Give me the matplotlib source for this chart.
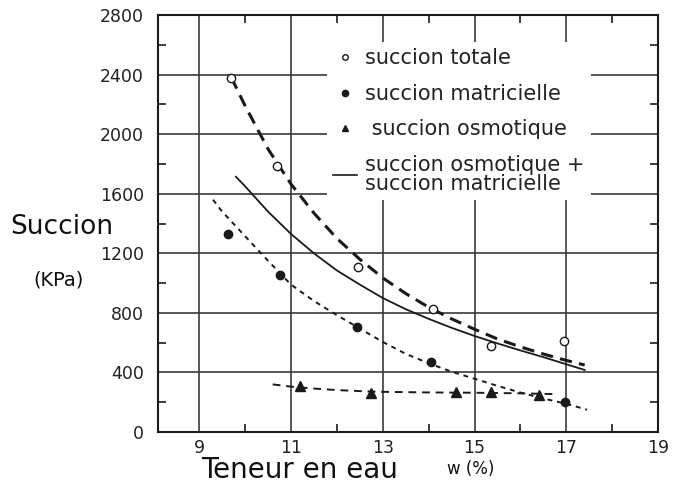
import matplotlib
matplotlib.use("Agg")
import matplotlib.pyplot as plt
from matplotlib.lines import Line2D
from matplotlib.ticker import MultipleLocator

# Measured points: water content w (%) and suction (kPa)
w_totale = [9.7, 10.7, 12.45, 14.1, 15.35, 16.95]
s_totale = [2380, 1785, 1110, 825, 575, 610]

w_matric = [9.62, 10.75, 12.43, 14.04, 16.98]
s_matric = [1330, 1055, 707, 470, 200]

w_osmo = [11.2, 12.75, 14.6, 15.35, 16.4]
s_osmo = [310, 263, 272, 268, 252]

# Trend curves
w_curve_tot = [9.7, 10.0, 10.5, 11.0, 11.5, 12.0, 12.5, 13.0, 13.5, 14.0, 14.5,
               15.0, 15.5, 16.0, 16.5, 17.0, 17.4]
s_curve_tot = [2380, 2190, 1900, 1665, 1470, 1300, 1160, 1035, 930, 838, 760,
               690, 625, 572, 524, 481, 450]

w_curve_sum = [9.8, 10.0, 10.5, 11.0, 11.5, 12.0, 12.5, 13.0, 13.5, 14.0, 14.5,
               15.0, 15.5, 16.0, 16.5, 17.0, 17.4]
s_curve_sum = [1714, 1650, 1480, 1330, 1200, 1085, 990, 900, 825, 760, 700,
               645, 595, 548, 503, 455, 417]

w_curve_mat = [9.3, 9.5, 10.0, 10.5, 11.0, 11.5, 12.0, 12.5, 13.0, 13.5, 14.0,
               14.5, 15.0, 15.5, 16.0, 16.5, 17.0, 17.45]
s_curve_mat = [1560, 1480, 1315, 1150, 990, 880, 785, 695, 605, 525, 462,
               405, 358, 310, 265, 225, 190, 150]

w_curve_osm = [10.6, 11.0, 11.5, 12.0, 12.5, 13.0, 14.0, 15.0, 16.0, 16.7]
s_curve_osm = [320, 305, 292, 282, 275, 270, 266, 264, 260, 255]

x_ticks = [9, 11, 13, 15, 17, 19]
y_ticks = [0, 400, 800, 1200, 1600, 2000, 2400, 2800]

fig = plt.figure(figsize=(6.75, 4.86), dpi=100)
ax = fig.add_axes([0.234, 0.111, 0.741, 0.858])
ax.set_xlim(8.1, 19)
ax.set_ylim(0, 2800)

ink = "#1a1a1a"
grid_c = "#3a3a3a"

# grid at the labelled values
for xv in x_ticks[:-1]:
    ax.axvline(xv, color=grid_c, lw=1.2, zorder=1)
for yv in y_ticks[1:-1]:
    ax.axhline(yv, color=grid_c, lw=1.2, zorder=1)

ax.plot(w_curve_tot, s_curve_tot, color=ink, lw=2.2, dashes=(4, 2.4), zorder=3)
ax.plot(w_curve_sum, s_curve_sum, color=ink, lw=1.3, zorder=3)
ax.plot(w_curve_mat, s_curve_mat, color=ink, lw=1.4, dashes=(2.5, 2.5), zorder=3)
ax.plot(w_curve_osm, s_curve_osm, color=ink, lw=1.4, dashes=(4, 3), zorder=3)

ax.plot(w_totale, s_totale, "o", ms=6, mfc="white", mec=ink, mew=1.0, ls="none", zorder=4)
ax.plot(w_matric, s_matric, "o", ms=6, mfc=ink, mec=ink, ls="none", zorder=4)
ax.plot(w_osmo, s_osmo, "^", ms=6.5, mfc=ink, mec=ink, ls="none", zorder=4)

ax.set_xticks(x_ticks)
ax.set_yticks(y_ticks)
ax.xaxis.set_minor_locator(MultipleLocator(1))
ax.yaxis.set_minor_locator(MultipleLocator(200))
ax.tick_params(which="both", direction="in", top=True, right=True, color=ink,
               width=1.2)
ax.tick_params(which="major", length=0, labelsize=12.5, labelcolor="#222222")
ax.tick_params(axis="y", which="major", pad=10)
ax.tick_params(axis="x", which="major", pad=5)
ax.tick_params(which="minor", length=6)
for sp in ax.spines.values():
    sp.set_color(ink)
    sp.set_linewidth(1.5)

fig.text(0.015, 0.532, "Succion", fontsize=19, color="#111111", va="center", ha="left")
fig.text(0.05, 0.424, "(KPa)", fontsize=14, color="#111111", va="center", ha="left")
fig.text(0.298, 0.016, "Teneur en eau", fontsize=20, color="#111111",
         va="baseline", ha="left")
fig.text(0.662, 0.035, "w (%)", fontsize=12, color="#111111", va="center", ha="left")

handles = [
    Line2D([], [], marker="o", ms=4, mfc="white", mec=ink, ls="none"),
    Line2D([], [], marker="o", ms=4.5, mfc=ink, mec=ink, ls="none"),
    Line2D([], [], marker="^", ms=4.5, mfc=ink, mec=ink, ls="none"),
    Line2D([], [], color=ink, lw=1.2),
]
labels = ["succion totale", "succion matricielle", " succion osmotique",
          "succion osmotique +\nsuccion matricielle"]
leg = ax.legend(handles, labels, loc="upper left", bbox_to_anchor=(0.338, 0.935),
                frameon=True, fontsize=15, handlelength=1.15, handletextpad=0.38,
                labelspacing=0.74, borderpad=0.3, borderaxespad=0)
leg.get_frame().set_facecolor("white")
leg.get_frame().set_edgecolor("none")
leg.get_frame().set_alpha(1)
for t in leg.get_texts():
    t.set_color("#222222")
    t.set_linespacing(0.95)
leg.set_zorder(5)

fig.savefig("out.png", dpi=100)
